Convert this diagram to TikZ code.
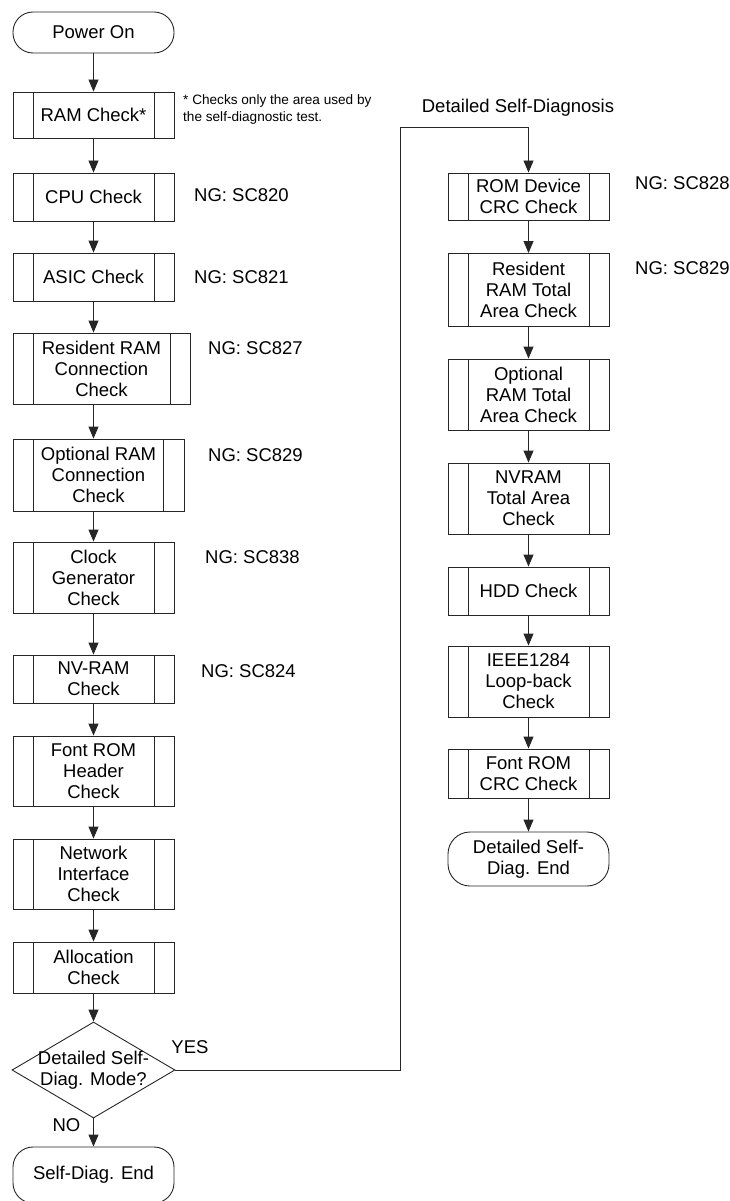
\documentclass[tikz,border=0pt]{standalone}
\usepackage{fontspec}
\setmainfont{Liberation Sans}
\usetikzlibrary{arrows.meta,shapes.geometric}
\tikzset{
  base/.style={draw=black!85, line width=0.9pt, inner sep=0pt, align=center,
    font=\fontsize{18.5}{21}\selectfont},
  sub/.style={base, rectangle, minimum width=161pt,
    path picture={\draw[black!85, line width=0.9pt]
      ([xshift=20pt]path picture bounding box.north west) -- ([xshift=20pt]path picture bounding box.south west)
      ([xshift=-#1]path picture bounding box.north east) -- ([xshift=-#1]path picture bounding box.south east);}},
  sub/.default=20pt,
  term/.style={base, rectangle, rounded corners=20pt, minimum width=161pt},
  dec/.style={base, diamond, minimum width=163pt, minimum height=96pt},
  arr/.style={draw=black!85, line width=0.9pt, -{Triangle[width=10pt,length=12pt]}},
  lbl/.style={inner sep=0pt, font=\fontsize{18.5}{21}\selectfont},
  note/.style={inner sep=0pt, align=left, font=\fontsize{13.6}{17}\selectfont}
}
\begin{document}
\begin{tikzpicture}[x=1pt,y=-1pt]
\useasboundingbox (0,0) rectangle (730,1201);
\coordinate (colL) at (93.5,0);
% left column
\node[term, minimum height=41pt] (pon) at (93.5,32.5) {Power On};
\node[sub, minimum height=46pt] (ram) at (93.5,115) {RAM Check*};
\node[sub, minimum height=48pt] (cpu) at (93.5,197) {CPU Check};
\node[sub, minimum height=48pt] (asic) at (93.5,277) {ASIC Check};
\node[sub, minimum width=177pt, minimum height=71pt] (rrc) at (101.5,368.5) {Resident RAM\\Connection\\Check};
\node[sub=21pt, minimum width=171pt, minimum height=72pt] (orc) at (98.5,475) {Optional RAM\\Connection\\Check};
\node[sub, minimum height=71pt] (clk) at (93.5,577.5) {Clock\\Generator\\Check};
\node[sub, minimum height=48pt] (nvr) at (93.5,679) {NV-RAM\\Check};
\node[sub, minimum height=70pt] (frh) at (93.5,771) {Font ROM\\Header\\Check};
\node[sub, minimum height=70pt] (net) at (93.5,874) {Network\\Interface\\Check};
\node[sub, minimum height=51pt] (alloc) at (93.5,967.5) {Allocation\\Check};
\node[dec] (dec) at (93.5,1070) {};
\node[lbl, align=center] (dect) at (dec.center) {Detailed Self-\\Diag. Mode?};
\node[term, minimum height=56pt] (send) at (93.5,1175) {Self-Diag. End};
% right column
\node[sub, minimum height=47pt] (rom) at (528.5,196.5) {ROM Device\\CRC Check};
\node[sub, minimum height=73pt] (rrt) at (528.5,290) {Resident\\RAM Total\\Area Check};
\node[sub, minimum height=71pt] (ort) at (528.5,394.5) {Optional\\RAM Total\\Area Check};
\node[sub, minimum height=71pt] (nvt) at (528.5,498.5) {NVRAM\\Total Area\\Check};
\node[sub, minimum height=48pt] (hdd) at (528.5,591) {HDD Check};
\node[sub, minimum height=71pt] (ieee) at (528.5,681.5) {IEEE1284\\Loop-back\\Check};
\node[sub, minimum height=49pt] (frc) at (528.5,773.5) {Font ROM\\CRC Check};
\node[term, rounded corners=22pt, minimum height=54pt] (dend) at (528.5,859) {Detailed Self-\\Diag. End};
% labels
\node[note, anchor=west] (nt) at (183,109) {* Checks only the area used by\\the self-diagnostic test.};
\node[lbl, anchor=west] (ng1) at (194,195) {NG: SC820};
\node[lbl, anchor=west] (ng2) at (194,277) {NG: SC821};
\node[lbl, anchor=west] (ng3) at (208,348) {NG: SC827};
\node[lbl, anchor=west] (ng4) at (208,455) {NG: SC829};
\node[lbl, anchor=west] (ng5) at (205,557) {NG: SC838};
\node[lbl, anchor=west] (ng6) at (201,671) {NG: SC824};
\node[lbl, anchor=west] (ng7) at (635,183) {NG: SC828};
\node[lbl, anchor=west] (ng8) at (635,268) {NG: SC829};
\node[lbl] (yes) at (190,1047) {YES};
\node[lbl] (no) at (66.5,1125) {NO};
\node[lbl] (dsd) at (518,108) {Detailed Self-Diagnosis};
% connectors left
\foreach \a/\b in {pon/ram,ram/cpu,cpu/asic,asic/rrc,rrc/orc,orc/clk,clk/nvr,nvr/frh,frh/net,net/alloc,alloc/dec,dec/send}
  \draw[arr] (\a.south -| colL) -- (\b.north -| colL);
% connectors right
\foreach \a/\b in {rom/rrt,rrt/ort,ort/nvt,nvt/hdd,hdd/ieee,ieee/frc,frc/dend}
  \draw[arr] (\a.south) -- (\b.north);
\coordinate (jx) at (400,127);
\draw[arr] (dec.east) -| (jx) -| (rom.north);
\end{tikzpicture}
\end{document}
